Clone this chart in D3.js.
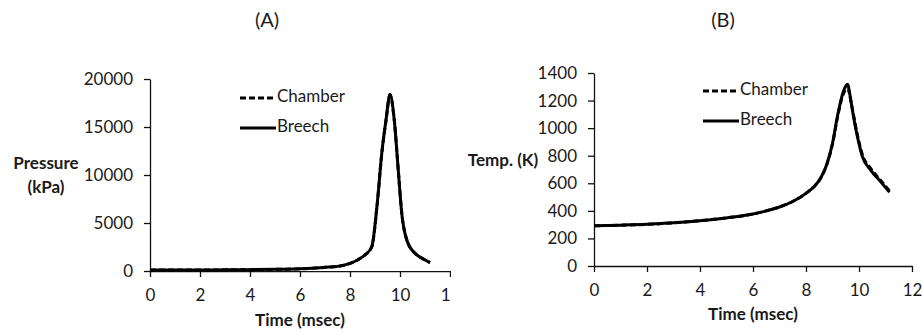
<!DOCTYPE html>
<html>
<head>
<meta charset="utf-8">
<script src="https://cdn.jsdelivr.net/npm/d3@7"></script>
<style>
  body { margin: 0; background: #fff; }
  text { font-family: Lato, "Open Sans", sans-serif; fill: #1a1a1a; }
  .domain, .tick line { stroke: #111; stroke-width: 1.3px; }
</style>
</head>
<body>
<div id="chart"></div>
<script>
// panel A: pressure
var timeA = [0, 1, 2, 3, 4, 5, 6, 6.5, 7, 7.5, 8, 8.3, 8.6, 8.87, 9.09, 9.27, 9.44, 9.6, 9.77, 9.93, 10.07, 10.27, 10.6, 10.9, 11.2];
var chamberPressure = [100, 105, 110, 120, 140, 170, 230, 290, 380, 480, 800, 1150, 1670, 2500, 7000, 12200, 15650, 18300, 15750, 10550, 6050, 3250, 1850, 1310, 880];
var breechPressure  = [100, 105, 110, 120, 140, 170, 230, 290, 380, 480, 800, 1150, 1670, 2530, 7050, 12260, 15730, 18400, 15730, 10520, 6010, 3230, 1840, 1300, 870];
var pressureTicks = [0, 5000, 10000, 15000, 20000];

// panel B: temperature
var timeB = [0, 1, 2, 3, 4, 5, 6, 6.5, 7, 7.5, 8, 8.3, 8.55, 8.8, 9.0, 9.2, 9.4, 9.5, 9.58, 9.65, 9.75, 9.94, 10.13, 10.44, 10.82, 11.15];
var chamberTemp = [292, 296, 302, 313, 329, 349, 377, 400, 428, 468, 527, 575, 636, 745, 885, 1090, 1245, 1280, 1290, 1240, 1140, 950, 806, 708, 620, 545];
var breechTemp  = [292, 296, 302, 313, 329, 349, 377, 400, 428, 468, 527, 575, 636, 745, 890, 1100, 1260, 1305, 1318, 1250, 1131, 938, 793, 696, 611, 535];
var tempTicks = [0, 200, 400, 600, 800, 1000, 1200, 1400];

var timeTicks = [0, 2, 4, 6, 8, 10, 12];
var seriesNames = ["Chamber", "Breech"];

var svg = d3.select("#chart").append("svg")
    .attr("width", 922)
    .attr("height", 333);

svg.append("defs").append("clipPath").attr("id", "clipA")
  .append("rect").attr("x", 100).attr("y", 0).attr("width", 351).attr("height", 333);

function drawPanel(cfg){
    var x = d3.scaleLinear().domain([0, 12]).range([cfg.left, cfg.right]);
    var y = d3.scaleLinear().domain([0, cfg.ymax]).range([cfg.bottom, cfg.top]);

    svg.append("text")
        .attr("x", cfg.titleX).attr("y", 22)
        .attr("text-anchor", "middle").attr("dominant-baseline", "middle")
        .style("font-size", "20px")
        .text(cfg.title);

    var xg = svg.append("g")
        .attr("transform", "translate(0," + cfg.bottom + ")")
        .call(d3.axisBottom(x).tickValues(timeTicks).tickSize(6).tickSizeOuter(0).tickPadding(12));
    if(cfg.clip){ xg.attr("clip-path", "url(#" + cfg.clip + ")"); }

    svg.append("g")
        .attr("transform", "translate(" + cfg.left + ",0)")
        .call(d3.axisLeft(y).tickValues(cfg.yticks).tickFormat(d3.format("d")).tickSize(6).tickSizeOuter(0).tickPadding(11));

    svg.selectAll(".tick text").style("font-size", "17px").style("fill", "#1a1a1a");

    svg.append("text")
        .attr("x", (cfg.left + cfg.right)/2).attr("y", cfg.xlabelY)
        .attr("text-anchor", "middle").attr("dominant-baseline", "middle")
        .style("font-size", "17px").style("font-weight", "bold")
        .text("Time (msec)");

    cfg.ylabel.forEach(function(t, i){
        svg.append("text")
            .attr("x", cfg.ylabelX).attr("y", cfg.ylabelY + i*24)
            .attr("text-anchor", "middle").attr("dominant-baseline", "middle")
            .style("font-size", "17px").style("font-weight", "bold")
            .text(t);
    });

    var line = d3.line()
        .x(function(d){ return x(d[0]); })
        .y(function(d){ return y(d[1]); })
        .curve(d3.curveMonotoneX);

    var breech = d3.zip(cfg.time, cfg.breech);
    var chamber = d3.zip(cfg.time, cfg.chamber);

    svg.append("path").datum(breech)
        .attr("d", line).attr("fill", "none")
        .attr("stroke", "#000").attr("stroke-width", 3).attr("stroke-linejoin", "round");
    svg.append("path").datum(chamber)
        .attr("d", line).attr("fill", "none")
        .attr("stroke", "#000").attr("stroke-width", 3).attr("stroke-dasharray", "6,3");

    // legend
    seriesNames.forEach(function(name, i){
        var ly = cfg.legY + i*30;
        svg.append("line")
            .attr("x1", cfg.legX).attr("x2", cfg.legX + 36)
            .attr("y1", ly).attr("y2", ly)
            .attr("stroke", "#000").attr("stroke-width", 3)
            .attr("stroke-dasharray", name == "Chamber" ? "6,3" : null);
        svg.append("text")
            .attr("x", cfg.legX + 37).attr("y", ly)
            .attr("dominant-baseline", "middle")
            .style("font-size", "17px")
            .text(name);
    });
}

drawPanel({
    title: "(A)", titleX: 267,
    left: 150, right: 450, top: 79, bottom: 271, ymax: 20000,
    yticks: pressureTicks, time: timeA, chamber: chamberPressure, breech: breechPressure,
    ylabel: ["Pressure", "(kPa)"], ylabelX: 46, ylabelY: 165, xlabelY: 322,
    legX: 240, legY: 98, clip: "clipA"
});

drawPanel({
    title: "(B)", titleX: 723,
    left: 594, right: 912, top: 73, bottom: 266, ymax: 1400,
    yticks: tempTicks, time: timeB, chamber: chamberTemp, breech: breechTemp,
    ylabel: ["Temp. (K)"], ylabelX: 503, ylabelY: 162, xlabelY: 316,
    legX: 703, legY: 91
});
</script>
</body>
</html>
